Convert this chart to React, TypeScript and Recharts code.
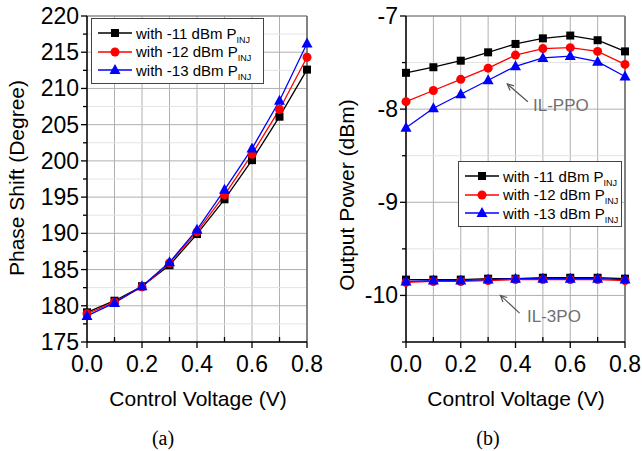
import React from 'react';
import { LineChart, Line, XAxis, YAxis, CartesianGrid, ReferenceLine } from 'recharts';

// control voltage (V)
const voltage = [0, 0.1, 0.2, 0.3, 0.4, 0.5, 0.6, 0.7, 0.8];

// (a) phase shift, degree
const phase11 = [179.1, 180.7, 182.7, 185.6, 189.9, 194.7, 200.1, 206.1, 212.6];
const phase12 = [178.9, 180.5, 182.6, 185.9, 190.2, 195.3, 200.9, 207.1, 214.3];
const phase13 = [178.6, 180.4, 182.7, 186.0, 190.5, 196.0, 201.7, 208.3, 216.2];

// (b) output power, dBm
const ppo11 = [-7.61, -7.55, -7.48, -7.39, -7.3, -7.24, -7.21, -7.26, -7.38];
const ppo12 = [-7.92, -7.8, -7.68, -7.56, -7.42, -7.35, -7.34, -7.38, -7.52];
const ppo13 = [-8.2, -7.99, -7.84, -7.69, -7.54, -7.45, -7.43, -7.49, -7.65];
const tpo11 = [-9.83, -9.83, -9.83, -9.82, -9.82, -9.81, -9.81, -9.81, -9.82];
const tpo12 = [-9.86, -9.85, -9.85, -9.84, -9.83, -9.83, -9.83, -9.83, -9.84];
const tpo13 = [-9.85, -9.84, -9.84, -9.83, -9.82, -9.82, -9.82, -9.82, -9.83];

const phaseMajor = [175, 180, 185, 190, 195, 200, 205, 210, 215, 220];
const phaseMinor = [177.5, 182.5, 187.5, 192.5, 197.5, 202.5, 207.5, 212.5, 217.5];
const powerMajor = [-10, -9, -8, -7];
const powerMinor = [-10.5, -9.5, -8.5, -7.5];

const legendNames = ['with -11 dBm P', 'with -12 dBm P', 'with -13 dBm P'];
const colors = ['#000000', '#ff0000', '#0000ff'];

const FONT = '"Liberation Sans", Arial, Helvetica, sans-serif';

const phaseData = voltage.map((v, i) => ({ v, a: phase11[i], b: phase12[i], c: phase13[i] }));
const powerData = voltage.map((v, i) => ({
  v,
  a: ppo11[i],
  b: ppo12[i],
  c: ppo13[i],
  d: tpo11[i],
  e: tpo12[i],
  f: tpo13[i],
}));

const Marker = ({ kind, cx, cy, color }: any) => {
  if (cx == null || cy == null) return null;
  if (kind === 0) return <rect x={cx - 4} y={cy - 4} width={8} height={8} fill={color} />;
  if (kind === 1) return <circle cx={cx} cy={cy} r={4.5} fill={color} />;
  return <polygon points={`${cx},${cy - 6} ${cx - 5.5},${cy + 4} ${cx + 5.5},${cy + 4}`} fill={color} />;
};

const XTick = (props: any) => {
  const { x, y, payload } = props;
  const v = payload.value;
  const major = Math.round(v * 10) % 2 === 0;
  return (
    <g>
      <line x1={x} x2={x} y1={y} y2={major ? y + 6 : y - 5} stroke="#000" strokeWidth={1.3} />
      {major && (
        <text x={x} y={y + 22} textAnchor="middle" dominantBaseline="central" fontSize={23} fontFamily={FONT} fill="#000">
          {v.toFixed(1)}
        </text>
      )}
    </g>
  );
};

const makeYTick = (majors: number[]) => (props: any) => {
  const { x, y, payload } = props;
  const major = majors.includes(payload.value);
  return (
    <g>
      <line x1={x} x2={x - (major ? 6 : 4)} y1={y} y2={y} stroke="#000" strokeWidth={1.3} />
      {major && (
        <text x={x - 8} y={y} textAnchor="end" dominantBaseline="central" fontSize={23} fontFamily={FONT} fill="#000">
          {payload.value}
        </text>
      )}
    </g>
  );
};
const PhaseTick = makeYTick(phaseMajor);
const PowerTick = makeYTick(powerMajor);

const Arrow = (props: any) => {
  const { x1, y1, x2, y2 } = props;
  if (x1 == null) return null;
  const ang = Math.atan2(y2 - y1, x2 - x1);
  const L = 7;
  const a1 = ang + 0.45;
  const a2 = ang - 0.45;
  return (
    <g stroke="#555" strokeWidth={1.2} fill="none">
      <line x1={x1} y1={y1} x2={x2} y2={y2} />
      <polyline points={`${x1 + L * Math.cos(a1)},${y1 + L * Math.sin(a1)} ${x1},${y1} ${x1 + L * Math.cos(a2)},${y1 + L * Math.sin(a2)}`} />
    </g>
  );
};

const LegendBox = ({ left, top, width }: { left: number; top: number; width: number }) => (
  <div
    style={{
      position: 'absolute',
      left,
      top,
      width,
      height: 66,
      border: '1px solid #444',
      background: '#fff',
      boxSizing: 'border-box',
      paddingTop: 5,
      fontFamily: FONT,
    }}
  >
    {legendNames.map((name, i) => (
      <div key={name} style={{ display: 'flex', alignItems: 'center', height: 18.5 }}>
        <svg width={44} height={18} style={{ flex: 'none' }}>
          <line x1={6} x2={40} y1={9} y2={9} stroke={colors[i]} strokeWidth={1.3} />
          <Marker kind={i} cx={23} cy={9} color={colors[i]} />
        </svg>
        <span style={{ fontSize: 15, color: '#000', whiteSpace: 'nowrap' }}>
          {name}
          <span style={{ fontSize: 9, position: 'relative', top: 4 }}>INJ</span>
        </span>
      </div>
    ))}
  </div>
);

const seriesLine = (key: string, i: number) => (
  <Line
    key={key}
    type="linear"
    dataKey={key}
    stroke={colors[i]}
    strokeWidth={1.3}
    isAnimationActive={false}
    dot={(p: any) => <Marker key={`${key}-${p.index}`} kind={i} cx={p.cx} cy={p.cy} color={colors[i]} />}
    activeDot={false}
  />
);

const gridLines = (majors: number[], minors: number[]) => [
  ...minors.map((v) => <ReferenceLine key={`mi${v}`} y={v} stroke="#e3e3e3" strokeWidth={1} />),
  ...majors.map((v) => <ReferenceLine key={`ma${v}`} y={v} stroke="#b0b0b0" strokeWidth={1} />),
];

const abs = (left: number, top: number, extra: React.CSSProperties = {}): React.CSSProperties => ({
  position: 'absolute',
  left,
  top,
  fontFamily: FONT,
  whiteSpace: 'nowrap',
  ...extra,
});

const xAxisProps = {
  dataKey: 'v',
  type: 'number' as const,
  domain: [0, 0.8],
  ticks: voltage,
  height: 38,
  tickSize: 0,
  tickMargin: 0,
  tickLine: false,
  tick: <XTick />,
  axisLine: { stroke: '#000', strokeWidth: 1.5 },
  interval: 0 as const,
};

export default function App() {
  return (
    <div style={{ position: 'absolute', left: 0, top: 0, width: 642, height: 451, background: '#fff' }}>
      <div style={{ position: 'absolute', left: 0, top: 0 }}>
        <LineChart width={335} height={380} data={phaseData} margin={{ top: 16, right: 28, left: 0, bottom: 0 }}>
          <CartesianGrid horizontal={false} stroke="#b0b0b0" />
          {gridLines(phaseMajor, phaseMinor)}
          <ReferenceLine x={0.8} stroke="#666" strokeWidth={1.5} />
          <ReferenceLine y={220} stroke="#777" strokeWidth={1.2} />
          <XAxis {...xAxisProps} />
          <YAxis
            type="number"
            domain={[175, 220]}
            ticks={[...phaseMajor, ...phaseMinor].sort((p, q) => p - q)}
            width={87}
            tickSize={0}
            tickMargin={0}
            tickLine={false}
            tick={<PhaseTick />}
            axisLine={{ stroke: '#000', strokeWidth: 1.5 }}
            interval={0}
          />
          {seriesLine('a', 0)}
          {seriesLine('b', 1)}
          {seriesLine('c', 2)}
        </LineChart>
      </div>

      <div style={{ position: 'absolute', left: 320, top: 0 }}>
        <LineChart width={322} height={380} data={powerData} margin={{ top: 16, right: 17, left: 0, bottom: 0 }}>
          <CartesianGrid horizontal={false} stroke="#b0b0b0" />
          {gridLines(powerMajor, powerMinor)}
          <ReferenceLine x={0.8} stroke="#666" strokeWidth={1.5} />
          <ReferenceLine y={-7} stroke="#777" strokeWidth={1.2} />
          <XAxis {...xAxisProps} />
          <YAxis
            type="number"
            domain={[-10.5, -7]}
            ticks={[...powerMajor, ...powerMinor].sort((p, q) => p - q)}
            width={86}
            tickSize={0}
            tickMargin={0}
            tickLine={false}
            tick={<PowerTick />}
            axisLine={{ stroke: '#000', strokeWidth: 1.5 }}
            interval={0}
          />
          <ReferenceLine segment={[{ x: 0.37, y: -7.73 }, { x: 0.445, y: -7.92 }]} shape={<Arrow />} />
          <ReferenceLine segment={[{ x: 0.345, y: -10.0 }, { x: 0.415, y: -10.19 }]} shape={<Arrow />} />
          {seriesLine('a', 0)}
          {seriesLine('b', 1)}
          {seriesLine('c', 2)}
          {seriesLine('d', 0)}
          {seriesLine('e', 1)}
          {seriesLine('f', 2)}
        </LineChart>
      </div>

      <LegendBox left={91} top={18} width={173} />
      <LegendBox left={458} top={161} width={164} />

      <div style={abs(533, 96, { fontSize: 17, color: '#707070' })}>IL-PPO</div>
      <div style={abs(527, 307, { fontSize: 17, color: '#707070' })}>IL-3PO</div>

      <div style={abs(198, 399, { fontSize: 21, transform: 'translate(-50%, -50%)' })}>Control Voltage (V)</div>
      <div style={abs(516, 399, { fontSize: 21, transform: 'translate(-50%, -50%)' })}>Control Voltage (V)</div>
      <div style={abs(17, 178, { fontSize: 21, transform: 'translate(-50%, -50%) rotate(-90deg)' })}>Phase Shift (Degree)</div>
      <div style={abs(347, 195, { fontSize: 21, transform: 'translate(-50%, -50%) rotate(-90deg)' })}>Output Power (dBm)</div>

      <div style={abs(163, 438, { fontSize: 20, fontFamily: '"Liberation Serif", "Times New Roman", serif', transform: 'translate(-50%, -50%)' })}>(a)</div>
      <div style={abs(488, 438, { fontSize: 20, fontFamily: '"Liberation Serif", "Times New Roman", serif', transform: 'translate(-50%, -50%)' })}>(b)</div>
    </div>
  );
}
